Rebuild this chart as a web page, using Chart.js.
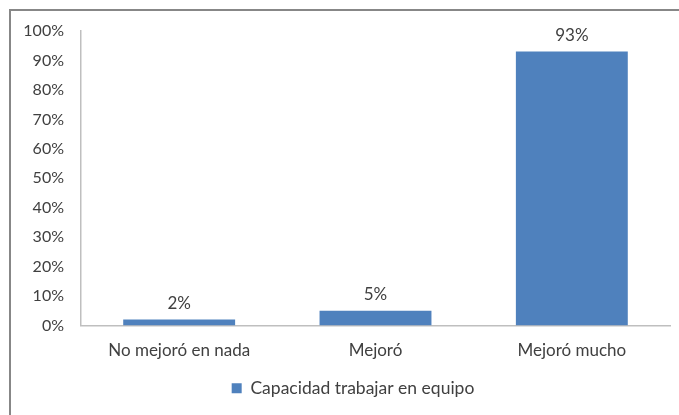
<!DOCTYPE html>
<html>
<head>
<meta charset="utf-8">
<script src="https://cdn.jsdelivr.net/npm/chart.js@4/dist/chart.umd.min.js"></script>
<style>
  html, body { margin: 0; padding: 0; background: #fff; overflow: hidden; }
  #wrap { position: relative; width: 679px; height: 415px; }
</style>
</head>
<body>
<div id="wrap"><canvas id="teamChart" width="679" height="415"></canvas></div>
<script>
const categories = ['No mejoró en nada', 'Mejoró', 'Mejoró mucho'];
const seriesName = 'Capacidad trabajar en equipo';
const seriesValues = [2, 5, 93];
const yTicks = [0, 10, 20, 30, 40, 50, 60, 70, 80, 90, 100];

const textColor = '#404040';
const fontFamily = 'Lato, "Liberation Sans", sans-serif';

// outer frame like the office chart border
const frame = {
  id: 'frame',
  beforeDraw(chart) {
    const ctx = chart.ctx;
    ctx.save();
    ctx.strokeStyle = '#878787';
    ctx.lineWidth = 2;
    ctx.strokeRect(10, 10, 700, 500);
    ctx.restore();
  }
};

// legend sits a bit right of the canvas centre in the original
const legendShift = {
  id: 'legendShift',
  afterLayout(chart) {
    if (chart.legend) {
      chart.legend.left += 18;
      chart.legend.right += 18;
    }
  }
};

// value labels above each bar
const barLabels = {
  id: 'barLabels',
  afterDatasetsDraw(chart) {
    const ctx = chart.ctx;
    const meta = chart.getDatasetMeta(0);
    ctx.save();
    ctx.fillStyle = textColor;
    ctx.font = '17px ' + fontFamily;
    ctx.textAlign = 'center';
    ctx.textBaseline = 'bottom';
    meta.data.forEach((bar, i) => {
      ctx.fillText(seriesValues[i] + '%', bar.x, bar.y - 8);
    });
    ctx.restore();
  }
};

new Chart(document.getElementById('teamChart'), {
  type: 'bar',
  data: {
    labels: categories,
    datasets: [{
      label: seriesName,
      data: seriesValues,
      backgroundColor: '#4f81bd',
      categoryPercentage: 1,
      barPercentage: 0.57
    }]
  },
  options: {
    responsive: false,
    animation: false,
    layout: { padding: { left: 0, top: 31, right: 9, bottom: 8 } },
    plugins: {
      legend: {
        position: 'bottom',
        labels: {
          boxWidth: 10,
          boxHeight: 10,
          padding: 10,
          color: textColor,
          font: { size: 17.5, family: fontFamily }
        }
      },
      tooltip: { enabled: false }
    },
    scales: {
      x: {
        grid: { display: false, drawTicks: false },
        border: { color: '#bfbfbf', width: 1.5 },
        ticks: { color: textColor, padding: 15, font: { size: 17, family: fontFamily } },
        afterFit(s) { s.height = 44; }
      },
      y: {
        min: 0,
        max: 100,
        afterBuildTicks(s) { s.ticks = yTicks.map(v => ({ value: v })); },
        grid: { display: false, drawTicks: false },
        border: { color: '#bfbfbf', width: 1.5 },
        ticks: {
          color: textColor,
          padding: 17,
          font: { size: 16, family: fontFamily },
          callback: v => v + '%'
        },
        afterFit(s) { s.width = 81; }
      }
    }
  },
  plugins: [frame, legendShift, barLabels]
});
</script>
</body>
</html>
